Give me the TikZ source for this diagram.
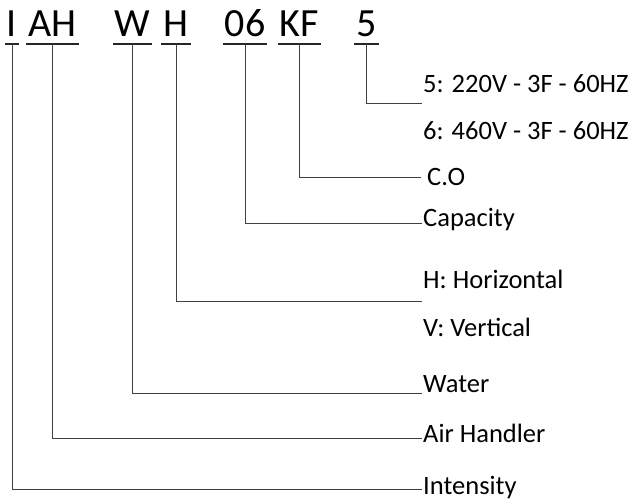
\documentclass[tikz,border=0pt]{standalone}
\usepackage{fontspec}
\setmainfont{Carlito}
\usepackage{tikz}
\usepackage{xcolor}

\begin{document}
\begin{tikzpicture}[x=1pt, y=-1pt,
        code/.style={font=\fontsize{40}{40}\selectfont, inner xsep=2pt, inner ysep=0pt, text depth=7pt, anchor=base},
        lab/.style={font=\fontsize{26.5}{28}\selectfont, inner sep=0pt, anchor=base west},
        uline/.style={line width=2pt, black!85},
        link/.style={line width=0.9pt, black!75}]

        \useasboundingbox (0, 0) rectangle (635, 502);

        % model code
        \node[code] (cI) at (12, 37) {I};
        \node[code] (cAH) at (52.5, 37) {AH};
        \node[code] (cW) at (132.5, 37) {W};
        \node[code] (cH) at (176, 37) {H};
        \node[code] (cCap) at (245, 37) {06};
        \node[code] (cCO) at (299.5, 37) {KF};
        \node[code] (cVolt) at (366.5, 37) {5};
        \foreach \c in {cI, cAH, cW, cH, cCap, cCO, cVolt}
        {
        \draw[uline] (\c.south west) -- (\c.south east);
        }

        % labels
        \node[lab] (lVolt5) at (423, 93) {5: 220V - 3F - 60HZ};
        \node[lab] (lVolt6) at (423, 140) {6: 460V - 3F - 60HZ};
        \node[lab] (lCO) at (427, 186) {C.O};
        \node[lab] (lCap) at (423, 227) {Capacity};
        \node[lab] (lHor) at (423, 289) {H: Horizontal};
        \node[lab] (lVer) at (423, 337) {V: Vertical};
        \node[lab] (lWater) at (423, 393) {Water};
        \node[lab] (lAir) at (423, 443) {Air Handler};
        \node[lab] (lInt) at (423, 495) {Intensity};

        % line ends
        \coordinate (eVolt) at (422, 103);
        \coordinate (eCO) at (421, 177);
        \coordinate (eCap) at (422, 223);
        \coordinate (eH) at (422, 301);
        \coordinate (eW) at (422, 393);
        \coordinate (eAH) at (422, 438);
        \coordinate (eI) at (422, 489);

        % connectors
        \draw[link] (cVolt.south) |- (eVolt);
        \draw[link] (cCO.south) |- (eCO);
        \draw[link] (cCap.south) |- (eCap);
        \draw[link] (cH.south) |- (eH);
        \draw[link] (cW.south) |- (eW);
        \draw[link] (cAH.south) |- (eAH);
        \draw[link] (cI.south) |- (eI);

\end{tikzpicture}
\end{document}
